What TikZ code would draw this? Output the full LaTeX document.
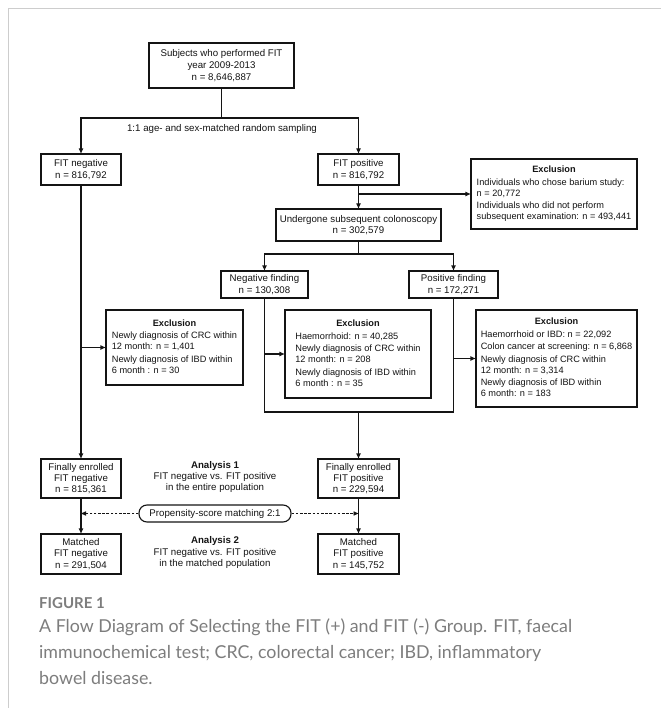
\documentclass[tikz,border=0pt]{standalone}
\usepackage{fontspec}
\setmainfont{Liberation Sans}
\newfontfamily\capfont{Lato}
\usetikzlibrary{arrows.meta}
\definecolor{framegray}{RGB}{205,205,205}
\definecolor{capgray}{RGB}{125,125,125}
\definecolor{ink}{RGB}{20,20,20}
\newcommand{\diagfont}{\fontsize{9.7}{11.3}\selectfont}
\newcommand{\topfont}{\fontsize{9.7}{12.3}\selectfont}
\newcommand{\exfont}{\fontsize{9.2}{11.0}\selectfont}
\begin{document}
\begin{tikzpicture}[x=1pt,y=-1pt,
  box/.style={draw=ink, line width=1.1pt, inner sep=0pt, align=center, font=\diagfont, text=ink},
  exbox/.style={draw=ink, line width=1.1pt, inner sep=0pt, font=\exfont, text=ink},
  conn/.style={draw=ink, line width=1.1pt},
  arr/.style={conn, -{Triangle[length=5pt,width=4.2pt]}},
  darr/.style={draw=ink, line width=0.9pt, dash pattern=on 2.6pt off 1.6pt, -{Triangle[length=5pt,width=4.2pt]}},
  plain/.style={align=center, font=\diagfont, text=ink, inner sep=0pt},
  captext/.style={anchor=base west, inner sep=0pt, text=capgray, font=\capfont\fontsize{17.8}{21}\selectfont}
]
\useasboundingbox (0,0) rectangle (661,708);
\fill[white] (0,0) rectangle (661,708);
% page frame
\draw[framegray, line width=1.2pt] (8.5,708) -- (8.5,8.5) -- (661,8.5);

% nodes
\node[box, font=\topfont, minimum width=145pt, minimum height=45pt] (top) at (221.5,65.5)
  {Subjects who performed FIT\\year 2009-2013\\n = 8,646,887};
\coordinate (split) at (221.5,118);
\node[plain] (samp) at (222,128.5) {1:1 age- and sex-matched random sampling};

\node[box, minimum width=80pt, minimum height=31pt] (fitneg) at (81,169.5) {FIT negative\\n = 816,792};
\node[box, minimum width=81pt, minimum height=31pt] (fitpos) at (358.5,169.5) {FIT positive\\n = 816,792};

\node[exbox, minimum width=166pt, minimum height=70pt] (excl1) at (554,194)
  {\begin{tabular}{@{}l@{}}\multicolumn{1}{@{}c@{}}{\textbf{Exclusion}}\\[1.6pt]
   Individuals who chose barium study:\\ n = 20,772\\[1.4pt]
   Individuals who did not perform\\ subsequent examination: n = 493,441\end{tabular}};

\node[box, minimum width=165pt, minimum height=32pt] (under) at (358.5,225) {Undergone subsequent colonoscopy\\n = 302,579};
\coordinate (split2) at (358.5,254);

\node[box, minimum width=87pt, minimum height=27pt] (negf) at (264.5,284.5) {Negative finding\\n = 130,308};
\node[box, minimum width=89pt, minimum height=27pt] (posf) at (453.5,284.5) {Positive finding\\n = 172,271};

\node[exbox, minimum width=137pt, minimum height=75pt] (exclL) at (174.5,347.5)
  {\begin{tabular}{@{}l@{}}\multicolumn{1}{@{}c@{}}{\textbf{Exclusion}}\\[1.8pt]
   Newly diagnosis of CRC within\\ 12 month: n = 1,401\\[1.5pt]
   Newly diagnosis of IBD within\\ 6 month : n = 30\end{tabular}};

\node[exbox, minimum width=146pt, minimum height=88pt] (exclM) at (358,354)
  {\begin{tabular}{@{}l@{}}\multicolumn{1}{@{}c@{}}{\textbf{Exclusion}}\\[1.8pt]
   Haemorrhoid: n = 40,285\\[1.5pt]
   Newly diagnosis of CRC within\\ 12 month: n = 208\\[1.5pt]
   Newly diagnosis of IBD within\\ 6 month : n = 35\end{tabular}};

\node[exbox, minimum width=161pt, minimum height=97pt] (exclR) at (556.5,358.5)
  {\begin{tabular}{@{}l@{}}\multicolumn{1}{@{}c@{}}{\textbf{Exclusion}}\\[1.8pt]
   Haemorrhoid or IBD: n = 22,092\\[1.3pt]
   Colon cancer at screening: n = 6,868\\[1.3pt]
   Newly diagnosis of CRC within\\ 12 month: n = 3,314\\[1.3pt]
   Newly diagnosis of IBD within\\ 6 month: n = 183\end{tabular}};

\coordinate (join) at (358.5,412);

\node[box, minimum width=80pt, minimum height=39pt] (enrN) at (81,478.5) {Finally enrolled\\FIT negative\\n = 815,361};
\node[box, minimum width=81pt, minimum height=39pt] (enrP) at (358.5,478.5) {Finally enrolled\\FIT positive\\n = 229,594};
\node[plain] (an1) at (215,477) {\textbf{Analysis 1}\\FIT negative vs. FIT positive\\in the entire population};

\node[draw=ink, line width=1.1pt, rounded corners=8pt, minimum width=152pt, minimum height=17pt, inner sep=0pt, font=\diagfont, text=ink] (psm) at (215,513.5) {Propensity-score matching 2:1};

\node[box, minimum width=80pt, minimum height=40pt] (matN) at (81,554) {Matched\\FIT negative\\n = 291,504};
\node[box, minimum width=81pt, minimum height=40pt] (matP) at (358.5,554) {Matched\\FIT positive\\n = 145,752};
\node[plain] (an2) at (215,552.5) {\textbf{Analysis 2}\\FIT negative vs. FIT positive\\in the matched population};

% connectors
\draw[conn] (top.south) -- (split);
\draw[arr] (split) -| (fitneg.north);
\draw[arr] (split) -| (fitpos.north);

\draw[arr] (fitpos.south) -- (under.north);
\draw[arr] (fitpos.south |- excl1.west) -- (excl1.west);

\draw[conn] (under.south) -- (split2);
\draw[arr] (split2) -| (negf.north);
\draw[arr] (split2) -| (posf.north);

\draw[arr] (fitneg.south) -- (enrN.north);
\draw[arr] (fitneg.south |- exclL.west) -- (exclL.west);

\draw[conn] (negf.south) |- (join) -| (posf.south);
\draw[arr] (negf.south |- exclM.west) -- (exclM.west);
\draw[arr] (posf.south |- exclR.west) -- (exclR.west);
\draw[arr] (join) -- (enrP.north);

\draw[arr] (enrN.south) -- (matN.north);
\draw[arr] (enrP.south) -- (matP.north);
\draw[darr] (psm.west) -- (psm.west -| enrN.south);
\draw[darr] (psm.east) -- (psm.east -| enrP.south);

% caption
\node[anchor=base west, inner sep=0pt, text=capgray, font=\capfont\bfseries\fontsize{15}{18}\selectfont] (fig) at (39,608) {FIGURE 1};
\node[captext] (cap1) at (39,632) {A Flow Diagram of Selecting the FIT (+) and FIT (-) Group. FIT, faecal};
\node[captext] (cap2) at (39,658) {immunochemical test; CRC, colorectal cancer; IBD, inflammatory};
\node[captext] (cap3) at (39,684) {bowel disease.};
\end{tikzpicture}
\end{document}
